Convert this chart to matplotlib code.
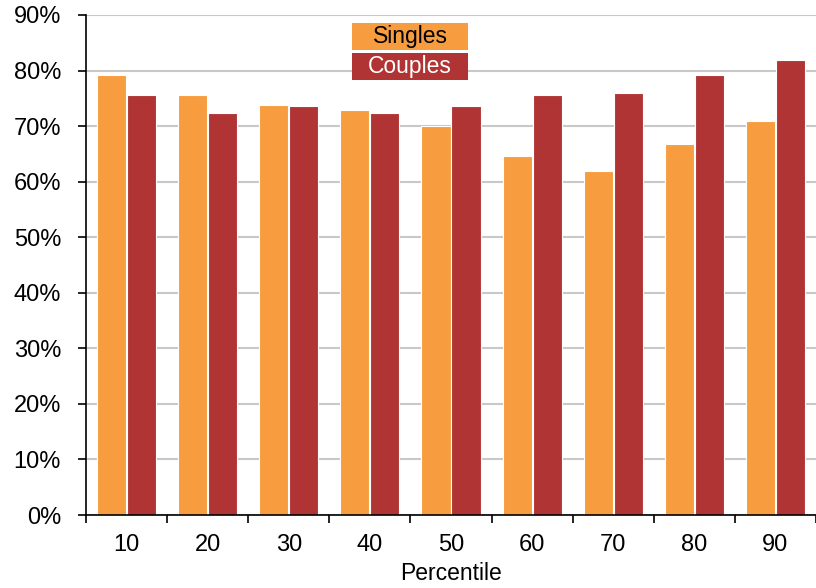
import matplotlib.pyplot as plt
from matplotlib.patches import Rectangle
import numpy as np

plt.rcParams['font.family'] = ['Liberation Sans', 'DejaVu Sans']

percentiles = ['10', '20', '30', '40', '50', '60', '70', '80', '90']
singles = [79.2, 75.6, 73.8, 72.9, 70.0, 64.6, 61.9, 66.8, 70.9]
couples = [75.6, 72.4, 73.6, 72.4, 73.6, 75.6, 76.0, 79.2, 81.9]
yticks = [0, 10, 20, 30, 40, 50, 60, 70, 80, 90]

c_single = '#F79D3F'
c_couple = '#B03434'

fig = plt.figure(figsize=(8.16, 5.88), dpi=100)
ax = fig.add_axes([0.1054, 0.1241, 0.8946, 0.8504])

x = np.arange(len(percentiles))
w = 0.36
ax.bar(x - 0.185, singles, w, color=c_single, edgecolor='white', linewidth=0.8, zorder=2)
ax.bar(x + 0.185, couples, w, color=c_couple, edgecolor='white', linewidth=0.8, zorder=2)

ax.set_xlim(-0.5, len(percentiles) - 0.5)
ax.set_ylim(0, 90)
ax.set_yticks(yticks)
ax.set_yticklabels([f'{v}%' for v in yticks], fontsize=17)
ax.set_xticks(x)
ax.set_xticklabels(percentiles, fontsize=17)
ax.set_xticks(np.arange(-0.5, len(percentiles)), minor=True)
ax.tick_params(axis='x', which='major', length=0, pad=14)
ax.tick_params(axis='x', which='minor', length=6, width=1.2, direction='out')
ax.tick_params(axis='y', length=6, width=1.2, direction='out', pad=12)
ax.yaxis.grid(True, color='#C8C8C8', linewidth=1.5, zorder=0)
ax.set_axisbelow(True)
for s in ['top', 'right']:
    ax.spines[s].set_visible(False)
ax.spines['left'].set_linewidth(1.2)
ax.spines['bottom'].set_linewidth(1.2)
ax.set_xlabel('Percentile', fontsize=16.5, labelpad=4)

# legend drawn as coloured boxes with the labels inside
for (label, col, tcol, y0) in [('Singles', c_single, 'black', 0.930),
                               ('Couples', c_couple, 'white', 0.870)]:
    ax.add_patch(Rectangle((0.3644, y0), 0.159, 0.054, transform=ax.transAxes,
                           facecolor=col, edgecolor='none', zorder=3, clip_on=False))
    ax.text(0.444, y0 + 0.027, label, transform=ax.transAxes, ha='center',
            va='center', fontsize=16.5, color=tcol, zorder=4)

fig.savefig('out.png', dpi=100)
